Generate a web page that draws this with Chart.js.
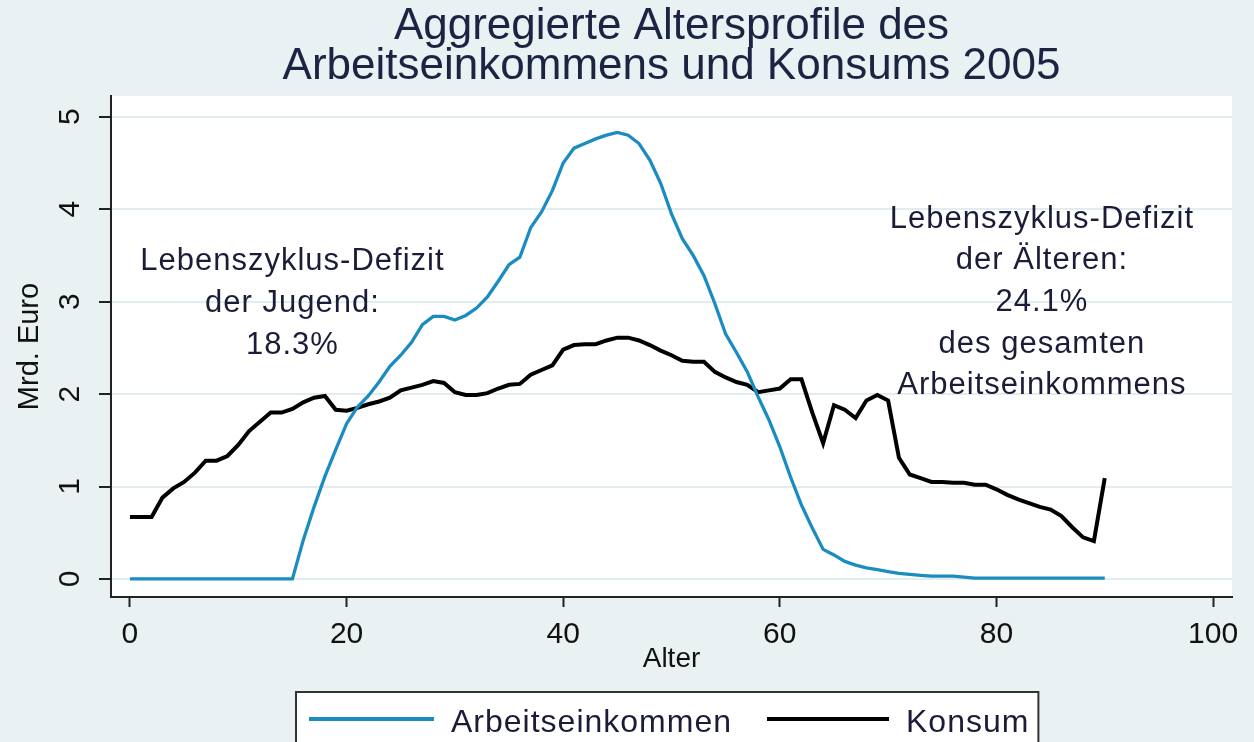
<!DOCTYPE html>
<html lang="de">
<head>
<meta charset="utf-8">
<title>Aggregierte Altersprofile 2005</title>
<script src="https://cdn.jsdelivr.net/npm/chart.js@4.4.1/dist/chart.umd.min.js"></script>
<style>
  html, body { margin: 0; padding: 0; background: #e9f1f3; }
  #wrap { width: 1254px; height: 742px; overflow: hidden; }
</style>
</head>
<body>
<div id="wrap"><canvas id="chart" width="1254" height="742"></canvas></div>
<script>
// Altersprofile 2005 (Mrd. Euro)

const ages = [
   0,  1,  2,  3,  4,  5,  6,  7,  8,  9,
  10, 11, 12, 13, 14, 15, 16, 17, 18, 19,
  20, 21, 22, 23, 24, 25, 26, 27, 28, 29,
  30, 31, 32, 33, 34, 35, 36, 37, 38, 39,
  40, 41, 42, 43, 44, 45, 46, 47, 48, 49,
  50, 51, 52, 53, 54, 55, 56, 57, 58, 59,
  60, 61, 62, 63, 64, 65, 66, 67, 68, 69,
  70, 71, 72, 73, 74, 75, 76, 77, 78, 79,
  80, 81, 82, 83, 84, 85, 86, 87, 88, 89,
  90
];

const arbeitseinkommen = [
  0, 0, 0, 0, 0, 0, 0, 0, 0, 0,
  0, 0, 0, 0, 0, 0, 0.42, 0.78, 1.11, 1.40,
  1.68, 1.86, 1.98, 2.13, 2.30, 2.42, 2.56, 2.75, 2.84, 2.84,
  2.80, 2.85, 2.93, 3.05, 3.22, 3.40, 3.48, 3.80, 3.97, 4.20,
  4.50, 4.66, 4.71, 4.76, 4.80, 4.83, 4.80, 4.71, 4.53, 4.28,
  3.95, 3.68, 3.50, 3.28, 2.98, 2.65, 2.45, 2.24, 1.97, 1.72,
  1.43, 1.10, 0.80, 0.55, 0.32, 0.26, 0.19, 0.15, 0.12, 0.10,
  0.08, 0.06, 0.05, 0.04, 0.03, 0.03, 0.03, 0.02, 0.01, 0.01,
  0.01, 0.01, 0.01, 0.01, 0.01, 0.01, 0.01, 0.01, 0.01, 0.01,
  0.01
];

const konsum = [
  0.67, 0.67, 0.67, 0.88, 0.98, 1.05, 1.15, 1.28, 1.28, 1.33,
  1.45, 1.60, 1.70, 1.80, 1.80, 1.84, 1.91, 1.96, 1.98, 1.83,
  1.82, 1.85, 1.89, 1.92, 1.96, 2.04, 2.07, 2.10, 2.14, 2.12,
  2.02, 1.99, 1.99, 2.01, 2.06, 2.10, 2.11, 2.21, 2.26, 2.31,
  2.48, 2.53, 2.54, 2.54, 2.58, 2.61, 2.61, 2.58, 2.53, 2.47,
  2.42, 2.36, 2.35, 2.35, 2.24, 2.18, 2.13, 2.10, 2.02, 2.04,
  2.06, 2.16, 2.16, 1.80, 1.47, 1.88, 1.83, 1.74, 1.93, 1.99,
  1.93, 1.31, 1.13, 1.09, 1.05, 1.05, 1.04, 1.04, 1.02, 1.02,
  0.97, 0.91, 0.86, 0.82, 0.78, 0.75, 0.68, 0.56, 0.45, 0.41,
  1.09
];

const xTicks = [0, 20, 40, 60, 80, 100];
const yTicks = [0, 1, 2, 3, 4, 5];

const titleLines = ['Aggregierte Altersprofile des', 'Arbeitseinkommens und Konsums 2005'];
const noteJugend = ['Lebenszyklus-Defizit', 'der Jugend:', '18.3%'];
const noteAeltere = ['Lebenszyklus-Defizit', 'der Älteren:', '24.1%', 'des gesamten', 'Arbeitseinkommens'];

const FONT = '"Liberation Sans", Arial, sans-serif';
const BG = '#e9f1f3';
const AXIS = '#222222';
const TEXT = '#1b1d38';

function points(values) {
    return ages.map((a, i) => ({ x: a, y: values[i] }));
}

// Hintergrund: grau-blauer Rahmen, weisse Plotflaeche
const backgroundPlugin = {
    id: 'background',
    beforeDraw(chart) {
        const { ctx, chartArea } = chart;
        ctx.save();
        ctx.fillStyle = BG;
        ctx.fillRect(0, 0, chart.width, chart.height);
        ctx.fillStyle = '#ffffff';
        ctx.fillRect(chartArea.left, chartArea.top,
            chartArea.right - chartArea.left, chartArea.bottom - chartArea.top);
        ctx.restore();
    }
};

// Textbloecke im Plot, verankert an Datenkoordinaten
const notesPlugin = {
    id: 'notes',
    afterDatasetsDraw(chart) {
        const { ctx, scales: { x, y } } = chart;
        const blocks = [
            { lines: noteJugend, age: 15, value: 3.34 },
            { lines: noteAeltere, age: 84.2, value: 3.80 }
        ];
        ctx.save();
        ctx.font = '31px ' + FONT;
        ctx.letterSpacing = '1px';
        ctx.fillStyle = TEXT;
        ctx.textAlign = 'center';
        ctx.textBaseline = 'alphabetic';
        blocks.forEach(b => {
            const px = x.getPixelForValue(b.age);
            const py = y.getPixelForValue(b.value);
            b.lines.forEach((line, i) => ctx.fillText(line, px, py + i * 41.7));
        });
        ctx.restore();
    }
};

// Legende im Stata-Stil: Kasten mit Linienmustern
const legendBoxPlugin = {
    id: 'legendBox',
    afterDraw(chart) {
        const { ctx, chartArea } = chart;
        const sets = chart.data.datasets;
        ctx.save();
        ctx.font = '32px ' + FONT;
        ctx.letterSpacing = '1px';
        const w1 = ctx.measureText(sets[0].label).width;
        const w2 = ctx.measureText(sets[1].label).width;
        const total = 13 + 125 + 17 + w1 + 35 + 122 + 18 + w2 + 8;
        const cx = (chartArea.left + chartArea.right) / 2 - 4;
        const left = Math.round(cx - total / 2);
        const top = chart.scales.x.bottom + 5;
        const midY = top + 27;

        ctx.fillStyle = '#ffffff';
        ctx.fillRect(left, top, total, 80);
        ctx.strokeStyle = '#333333';
        ctx.lineWidth = 2;
        ctx.strokeRect(left, top, total, 80);

        let xPos = left + 13;
        [[sets[0], 125, w1, 35], [sets[1], 122, w2, 0]].forEach(([ds, len, w, gap]) => {
            ctx.strokeStyle = ds.borderColor;
            ctx.lineWidth = 4;
            ctx.beginPath();
            ctx.moveTo(xPos, midY);
            ctx.lineTo(xPos + len, midY);
            ctx.stroke();
            xPos += len + 17;
            ctx.fillStyle = TEXT;
            ctx.textAlign = 'left';
            ctx.textBaseline = 'alphabetic';
            ctx.fillText(ds.label, xPos, midY + 13);
            xPos += w + gap;
        });
        ctx.restore();
    }
};

const ctx = document.getElementById('chart').getContext('2d');
const chart = new Chart(ctx, {
    type: 'line',
    data: {
        datasets: [
            {
                label: 'Arbeitseinkommen',
                data: points(arbeitseinkommen),
                borderColor: '#1a8cbf',
                borderWidth: 3.3,
                pointRadius: 0,
                tension: 0,
                fill: false
            },
            {
                label: 'Konsum',
                data: points(konsum),
                borderColor: '#000000',
                borderWidth: 4,
                pointRadius: 0,
                tension: 0,
                fill: false
            }
        ]
    },
    options: {
        responsive: false,
        animation: false,
        layout: { padding: { left: 0, right: 22, top: 0, bottom: 55 } },
        plugins: {
            legend: { display: false },
            tooltip: { enabled: false },
            title: {
                display: true,
                fullSize: false,
                text: titleLines,
                color: '#1c2444',
                font: { family: FONT, size: 44, weight: 'normal', lineHeight: 40 / 44 },
                padding: { top: 7, bottom: 9 }
            }
        },
        scales: {
            x: {
                type: 'linear',
                min: -1.75,
                max: 101.75,
                afterBuildTicks: s => { s.ticks = xTicks.map(v => ({ value: v })); },
                afterFit: s => { s.height = 90; },
                grid: { drawOnChartArea: false, tickLength: 10, tickColor: AXIS, tickWidth: 2 },
                border: { color: AXIS, width: 2 },
                ticks: {
                    font: { family: FONT, size: 30 },
                    color: '#111111',
                    padding: 10,
                    maxRotation: 0,
                    autoSkip: false
                },
                title: {
                    display: true,
                    text: 'Alter',
                    color: '#111111',
                    font: { family: FONT, size: 28 },
                    padding: { top: 0, bottom: 11 }
                }
            },
            y: {
                type: 'linear',
                min: -0.195,
                max: 5.224,
                afterBuildTicks: s => { s.ticks = yTicks.map(v => ({ value: v })); },
                afterFit: s => { s.width = 111; },
                grid: { color: '#e3ecef', lineWidth: 2, tickLength: 12, tickColor: AXIS, tickWidth: 2 },
                border: { color: AXIS, width: 2 },
                ticks: {
                    font: { family: FONT, size: 30 },
                    color: '#111111',
                    minRotation: 90,
                    maxRotation: 90,
                    crossAlign: 'center',
                    padding: 20
                },
                title: {
                    display: true,
                    text: 'Mrd. Euro',
                    color: '#111111',
                    font: { family: FONT, size: 29 },
                    padding: { top: 13, bottom: 0 }
                }
            }
        }
    },
    plugins: [backgroundPlugin, notesPlugin, legendBoxPlugin]
});
</script>
</body>
</html>
